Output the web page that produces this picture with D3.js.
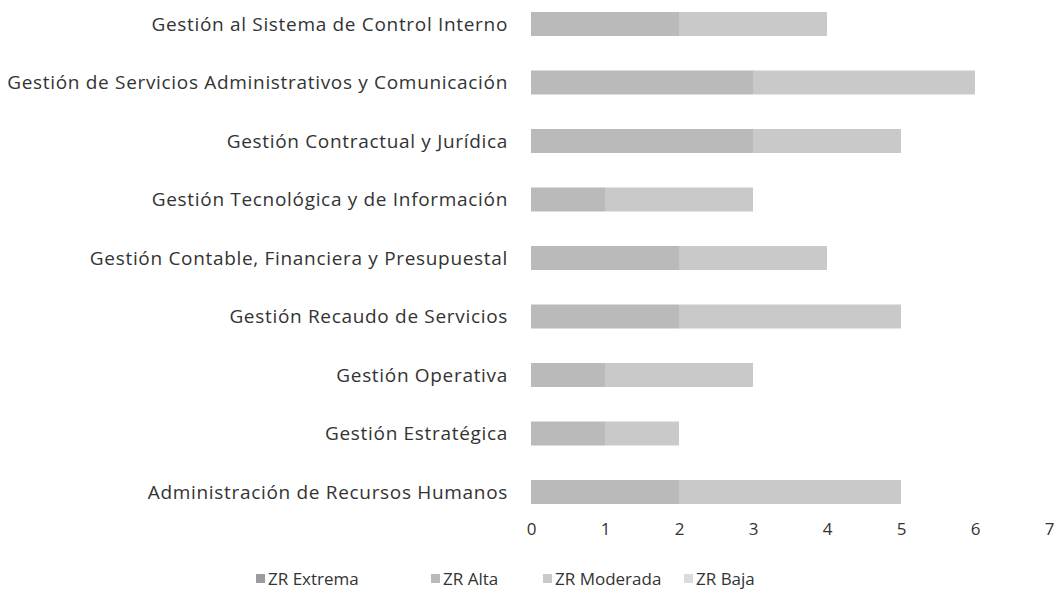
<!DOCTYPE html>
<html>
<head>
<meta charset="utf-8">
<script src="https://cdn.jsdelivr.net/npm/d3@7"></script>
<style>
  body { margin: 0; background: #fff; }
  text { font-family: "Open Sans", sans-serif; fill: #333; }
</style>
</head>
<body>
<svg width="1057" height="613"></svg>
<script>
// categorias de arriba hacia abajo
var categorias = [
  "Gestión al Sistema de Control Interno",
  "Gestión de Servicios Administrativos y Comunicación",
  "Gestión Contractual y Jurídica",
  "Gestión Tecnológica y de Información",
  "Gestión Contable, Financiera y Presupuestal",
  "Gestión Recaudo de Servicios",
  "Gestión Operativa",
  "Gestión Estratégica",
  "Administración de Recursos Humanos"
]
var series = ["ZR Extrema", "ZR Alta", "ZR Moderada", "ZR Baja"]
var zrExtrema  = [0, 0, 0, 0, 0, 0, 0, 0, 0]
var zrAlta     = [2, 3, 3, 1, 2, 2, 1, 1, 2]
var zrModerada = [2, 3, 2, 2, 2, 3, 2, 1, 3]
var zrBaja     = [0, 0, 0, 0, 0, 0, 0, 0, 0]
var ticks = [0, 1, 2, 3, 4, 5, 6, 7]

var colores = ["#9c9c9c", "#bababa", "#c9c9c9", "#dcdcdc"]

// tabla para el stack
var tabla = categorias.map(function(c, i){
  return { cat: c, "ZR Extrema": zrExtrema[i], "ZR Alta": zrAlta[i],
           "ZR Moderada": zrModerada[i], "ZR Baja": zrBaja[i] }
})

var svg = d3.select('svg')

var x = d3.scaleLinear().domain([0, 7]).range([531, 1049])
// centro de cada barra
var y = d3.scalePoint().domain(categorias).range([24, 492])
var alto = 24

var capas = d3.stack().keys(series)(tabla)

// barras apiladas
svg.selectAll('g.capa')
  .data(capas)
  .enter()
  .append('g')
  .attr('class', 'capa')
  .attr('fill', function(d, i){ return colores[i] })
  .selectAll('rect')
  .data(function(d){ return d })
  .enter()
  .append('rect')
  .attr('x', function(d){ return x(d[0]) })
  .attr('y', function(d){ return y(d.data.cat) - alto / 2 })
  .attr('width', function(d){ return x(d[1]) - x(d[0]) })
  .attr('height', alto)

// etiquetas de categoria
svg.selectAll('text.cat')
  .data(categorias)
  .enter()
  .append('text')
  .attr('class', 'cat')
  .attr('x', 508)
  .attr('y', function(d){ return y(d) })
  .attr('dy', '0.35em')
  .attr('text-anchor', 'end')
  .style('font-size', '19px')
  .style('letter-spacing', '0.68px')
  .text(function(d){ return d })

// eje x sin linea
var eje = svg.append('g')
  .attr('transform', 'translate(0,519)')
  .call(d3.axisBottom(x).tickValues(ticks).tickFormat(d3.format('d')).tickSize(0).tickPadding(4))
eje.select('.domain').remove()
eje.selectAll('text')
  .style('font-size', '17px')
  .style('font-family', '"Open Sans", sans-serif')
  .attr('fill', '#333')

// leyenda
var posLeyenda = [256, 431, 543, 684]
var ley = svg.selectAll('g.ley')
  .data(series)
  .enter()
  .append('g')
  .attr('class', 'ley')
  .attr('transform', function(d, i){ return 'translate(' + posLeyenda[i] + ',579)' })

ley.append('rect')
  .attr('x', 0)
  .attr('y', -5)
  .attr('width', 9)
  .attr('height', 9)
  .attr('fill', function(d, i){ return colores[i] })

ley.append('text')
  .attr('x', 12)
  .attr('y', 0)
  .attr('dy', '0.35em')
  .style('font-size', '17px')
  .text(function(d){ return d })
</script>
</body>
</html>
